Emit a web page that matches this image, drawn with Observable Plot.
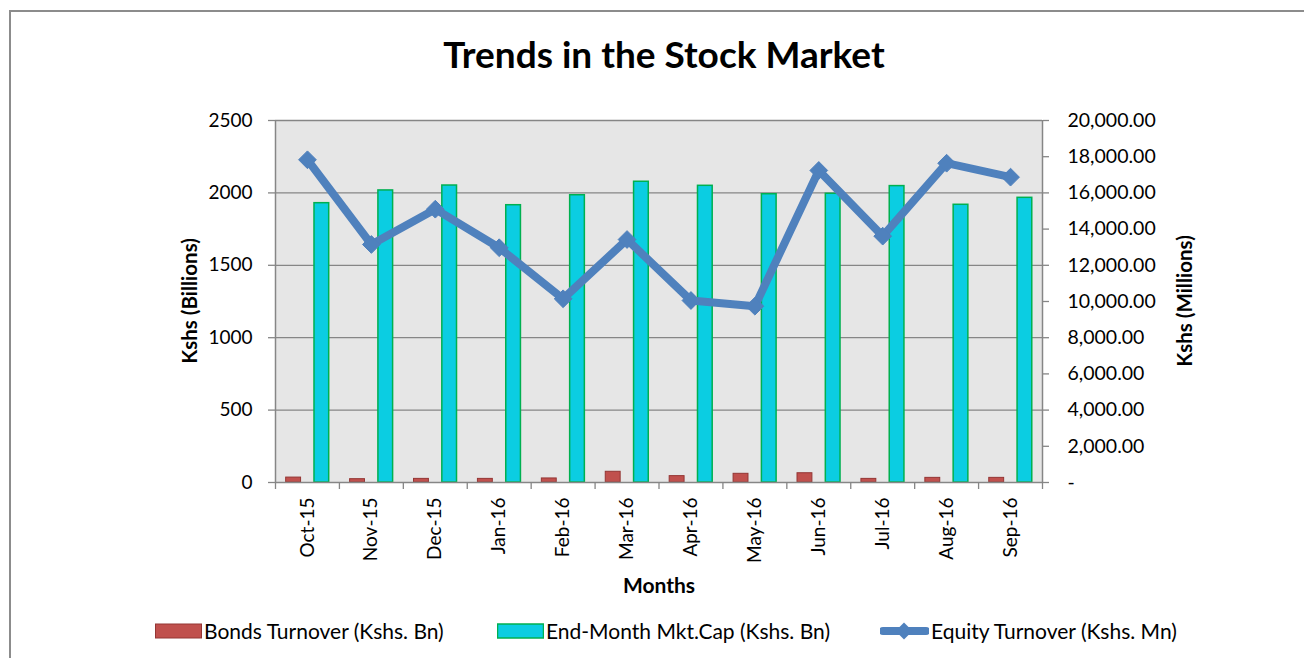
<!DOCTYPE html>
<html>
<head>
<meta charset="utf-8">
<script src="https://cdn.jsdelivr.net/npm/d3@7"></script>
<script src="https://cdn.jsdelivr.net/npm/@observablehq/plot@0.6"></script>
<style>
  html, body { margin: 0; padding: 0; background: #fff; overflow: hidden; }
  #wrap { position: relative; width: 1304px; height: 658px; overflow: hidden; font-family: Lato, "Open Sans", sans-serif; }
  #border { position: absolute; left: 9px; top: 10px; width: 1400px; height: 800px; border: 2px solid #8c8c8c; box-sizing: border-box; }
  #chart { position: absolute; left: 0; top: 0; }
  #title { position: absolute; left: 0; width: 1328px; top: 30px; line-height: 48px; text-align: center; font-weight: bold; font-size: 37px; color: #000; }
  .leg { position: absolute; top: 618px; font-size: 21px; color: #000; display: flex; align-items: center; white-space: nowrap; }
  .leg svg { margin-right: 2px; }
  .ytitle { position: absolute; width: 300px; height: 30px; line-height: 30px; text-align: center; font-weight: bold; font-size: 20.5px; transform: rotate(-90deg); }
</style>
</head>
<body>
<div id="wrap">
  <div id="border"></div>
  <div id="chart"></div>
  <div id="title">Trends in the Stock Market</div>
  <div class="ytitle" style="left:39px; top:286px">Kshs (Billions)</div>
  <div class="ytitle" style="left:1034px; top:286px">Kshs (Millions)</div>
  <div class="leg" style="left:155px"><svg width="47" height="16"><rect x="0.5" y="1" width="46" height="14" fill="#c0504d" stroke="#943634"/></svg>Bonds Turnover (Kshs. Bn)</div>
  <div class="leg" style="left:497px"><svg width="47" height="16"><rect x="0.5" y="1" width="46" height="14" fill="#0bcde2" stroke="#00b050" stroke-width="1.5"/></svg>End-Month Mkt.Cap (Kshs. Bn)</div>
  <div class="leg" style="left:880px"><svg width="49" height="20"><line x1="3" y1="10" x2="46" y2="10" stroke="#4f81bd" stroke-width="8" stroke-linecap="round"/><rect x="18" y="4" width="12" height="12" fill="#4f81bd" transform="rotate(45 24 10)"/></svg>Equity Turnover (Kshs. Mn)</div>
</div>
<script>
const months = ["Oct-15","Nov-15","Dec-15","Jan-16","Feb-16","Mar-16","Apr-16","May-16","Jun-16","Jul-16","Aug-16","Sep-16"];
const bondsTurnover = [34, 23, 25, 25, 28, 74, 44, 60, 64, 25, 32, 32];
const mktCap = [1929, 2017, 2051, 1915, 1984, 2077, 2049, 1991, 1994, 2047, 1918, 1966];
const equityTurnover = [17830, 13150, 15100, 12970, 10150, 13425, 10055, 9740, 17240, 13610, 17640, 16870];
const leftTicks = [0, 500, 1000, 1500, 2000, 2500];
const rightTicks = [0, 2000, 4000, 6000, 8000, 10000, 12000, 14000, 16000, 18000, 20000];

const ratio = 8; // right axis max 20000 / left axis max 2500
const bonds = months.map((m, i) => ({i, m, v: bondsTurnover[i]}));
const caps = months.map((m, i) => ({i, m, v: mktCap[i]}));
const equity = months.map((m, i) => ({i, m, v: equityTurnover[i]}));

const grid = "#868686";
const font = "Lato, 'Open Sans', sans-serif";

const plot = Plot.plot({
  width: 1304,
  height: 658,
  marginLeft: 275,
  marginRight: 262,
  marginTop: 120,
  marginBottom: 176,
  style: {fontFamily: font, fontSize: "19px", color: "#000", background: "transparent", overflow: "visible"},
  x: {type: "linear", domain: [0, months.length], axis: null},
  y: {domain: [0, 2500], axis: null},
  marks: [
    Plot.frame({fill: "#e6e6e6", stroke: null}),
    Plot.gridY(leftTicks.slice(1), {stroke: grid, strokeOpacity: 1, strokeWidth: 1.3}),
    Plot.rectY(bonds, {x1: d => d.i + 0.167, x2: d => d.i + 0.40, y: "v", fill: "#c0504d", stroke: "#943634", strokeWidth: 1}),
    Plot.rectY(caps, {x1: d => d.i + 0.61, x2: d => d.i + 0.84, y: "v", fill: "#0bcde2", stroke: "#00b050", strokeWidth: 1.5}),
    Plot.line(equity, {x: d => d.i + 0.5, y: d => d.v / ratio, stroke: "#4f81bd", strokeWidth: 8, strokeLinejoin: "round", strokeLinecap: "round"}),
    Plot.dot(equity, {x: d => d.i + 0.5, y: d => d.v / ratio, symbol: "diamond2", r: 8, fill: "#4f81bd", stroke: "#4f81bd", strokeWidth: 1}),
    Plot.ruleX([0], {stroke: grid, strokeWidth: 1.5}),
    Plot.ruleX([months.length], {stroke: grid, strokeWidth: 1.5}),
    Plot.ruleY([0], {stroke: grid, strokeWidth: 1.5}),
    Plot.axisY({ticks: leftTicks, tickSize: 7, tickPadding: 16, stroke: grid, strokeWidth: 1.3, fontSize: 19, tickFormat: d => String(d), label: null}),
    Plot.axisY({anchor: "right", ticks: rightTicks.map(v => v / ratio), tickSize: 6, tickPadding: 19, stroke: grid, strokeWidth: 1.3, fontSize: 19.5, textAnchor: "start",
      tickFormat: d => d === 0 ? "-" : d3.format(",.2f")(d * ratio), label: null}),
    Plot.axisX({ticks: d3.range(0, months.length + 1), tickSize: 7, stroke: grid, strokeWidth: 1.3, tickFormat: () => "", label: null}),
    Plot.axisX({ticks: months.map((m, i) => i + 0.5), tickSize: 0, tickPadding: 15, tickRotate: -90, fontSize: 19,
      tickFormat: d => months[Math.floor(d)], label: null}),
    Plot.text(["Months"], {frameAnchor: "bottom", dy: 110, fontWeight: "bold", fontSize: 21})
  ]
});
document.getElementById("chart").appendChild(plot);
</script>
</body>
</html>
